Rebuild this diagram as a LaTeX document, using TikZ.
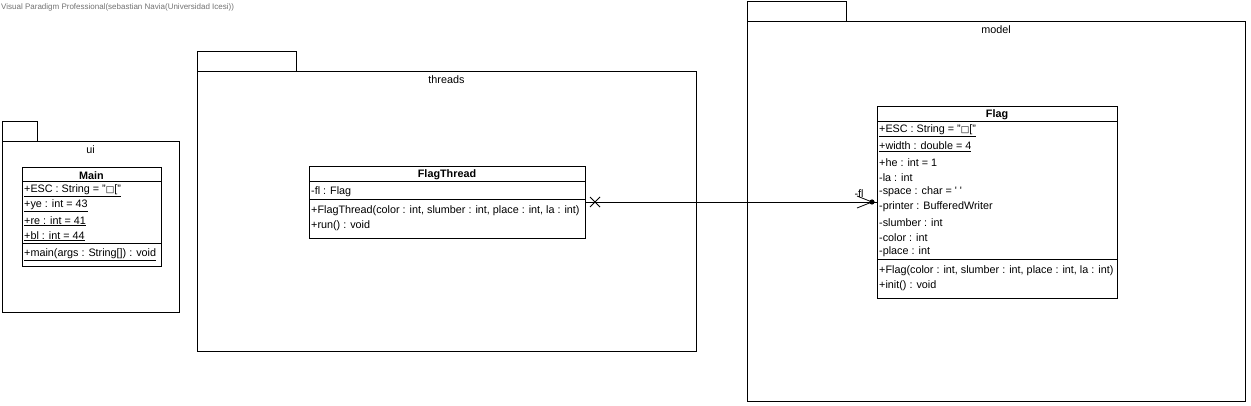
\documentclass[tikz,border=0pt]{standalone}
\usepackage{fontspec}
\usetikzlibrary{calc}
\setmainfont{Liberation Sans}
\newfontfamily\symf{DejaVu Sans}
\newcommand{\sq}{{\symf\fontsize{9}{10}\selectfont □}}
\begin{document}
\begin{tikzpicture}[x=1pt,y=-1pt,
  pkg/.style={draw=black,line width=1pt,fill=white},
  cls/.style={draw=black,line width=1pt,fill=white,anchor=north west,inner sep=0pt},
  sep/.style={line width=1pt},
  txt/.style={anchor=west,inner sep=0pt,yshift=-1.2pt,font=\fontsize{10.8}{12}\selectfont},
  ttl/.style={anchor=center,inner sep=0pt,yshift=-0.8pt,font=\fontsize{10.8}{12}\selectfont\bfseries},
  plbl/.style={anchor=center,inner sep=0pt,font=\fontsize{10.8}{12}\selectfont},
  conn/.style={line width=0.8pt}]
\useasboundingbox (0,0) rectangle (1251,406);
\fill[white] (0,0) rectangle (1251,406);
\node[anchor=west,inner sep=0pt,text=black!55,font=\fontsize{8}{9}\selectfont] (hdr) at (1,7) {Visual Paradigm Professional(sebastian Navia(Universidad Icesi))};
% packages
\draw[pkg] (2,122) rectangle (37,142);
\draw[pkg] (2,142) rectangle (179,312);
\node[plbl] (uil) at (90.5,150) {ui};
\draw[pkg] (197,52) rectangle (296,72);
\draw[pkg] (197,72) rectangle (696,351);
\node[plbl] (thl) at (446.5,80) {threads};
\draw[pkg] (747,2) rectangle (846,22);
\draw[pkg] (747,22) rectangle (1245,401);
\node[plbl] (mdl) at (996,30) {model};
% Main
\node[cls,minimum width=139pt,minimum height=99pt] (main) at (22,167) {};
\node[ttl] (mainT) at (91.5,174.5) {Main};
\draw[sep] (22,182) -- (161,182);
\node[txt] (m1) at (24,190) {\underline{+ESC : String = "\sq["}};
\node[txt] (m2) at (24,205) {\underline{+ye : int = 43}};
\node[txt] (m3) at (24,220) {\underline{+re : int = 41}};
\node[txt] (m4) at (24,235) {\underline{+bl : int = 44}};
\draw[sep] (22,244) -- (161,244);
\node[txt] (m5) at (24,254) {\underline{+main(args : String[]) : void}};
% FlagThread
\node[cls,minimum width=276pt,minimum height=72pt] (ft) at (309,166) {};
\node[ttl] (ftT) at (447,174) {FlagThread};
\draw[sep] (309,182) -- (585,182);
\node[txt] (f1) at (311,190.5) {-fl : Flag};
\draw[sep] (309,200) -- (585,200);
\node[txt] (f2) at (311,210) {+FlagThread(color : int, slumber : int, place : int, la : int)};
\node[txt] (f3) at (311,225) {+run() : void};
% Flag
\node[cls,minimum width=240pt,minimum height=192pt] (fl) at (877,106) {};
\node[ttl] (flT) at (997,114) {Flag};
\draw[sep] (877,122) -- (1117,122);
\node[txt] (a1) at (879,130) {\underline{+ESC : String = "\sq["}};
\node[txt] (a2) at (879,145.5) {\underline{+width : double = 4}};
\node[txt] (a3) at (879,161) {+he : int = 1};
\node[txt] (a4) at (879,176) {-la : int};
\node[txt] (a5) at (879,191) {-space : char = \textquotesingle\ \textquotesingle};
\node[txt] (a6) at (879,206) {-printer : BufferedWriter};
\node[txt] (a7) at (879,221) {-slumber : int};
\node[txt] (a8) at (879,236) {-color : int};
\node[txt] (a9) at (879,251) {-place : int};
\draw[sep] (877,260) -- (1117,260);
\node[txt] (o1) at (879,270) {+Flag(color : int, slumber : int, place : int, la : int)};
\node[txt] (o2) at (879,285) {+init() : void};
% association
\coordinate (s) at (ft.east |- 0,202);
\coordinate (e) at (fl.west |- 0,202);
\coordinate (d) at ($(e)+(-5,0)$);
\draw[conn] (s) -- (e);
\draw[conn] ($(s)+(4,-5)$) -- ($(s)+(14,5)$);
\draw[conn] ($(s)+(4,5)$) -- ($(s)+(14,-5)$);
\fill (d) circle (2.6pt);
\draw[conn] (d) -- ($(d)+(-15,-6)$);
\draw[conn] (d) -- ($(d)+(-15,6)$);
\node[anchor=center,inner sep=0pt,font=\fontsize{10.8}{12}\selectfont] (role) at (859,194) {-fl};
\end{tikzpicture}
\end{document}
